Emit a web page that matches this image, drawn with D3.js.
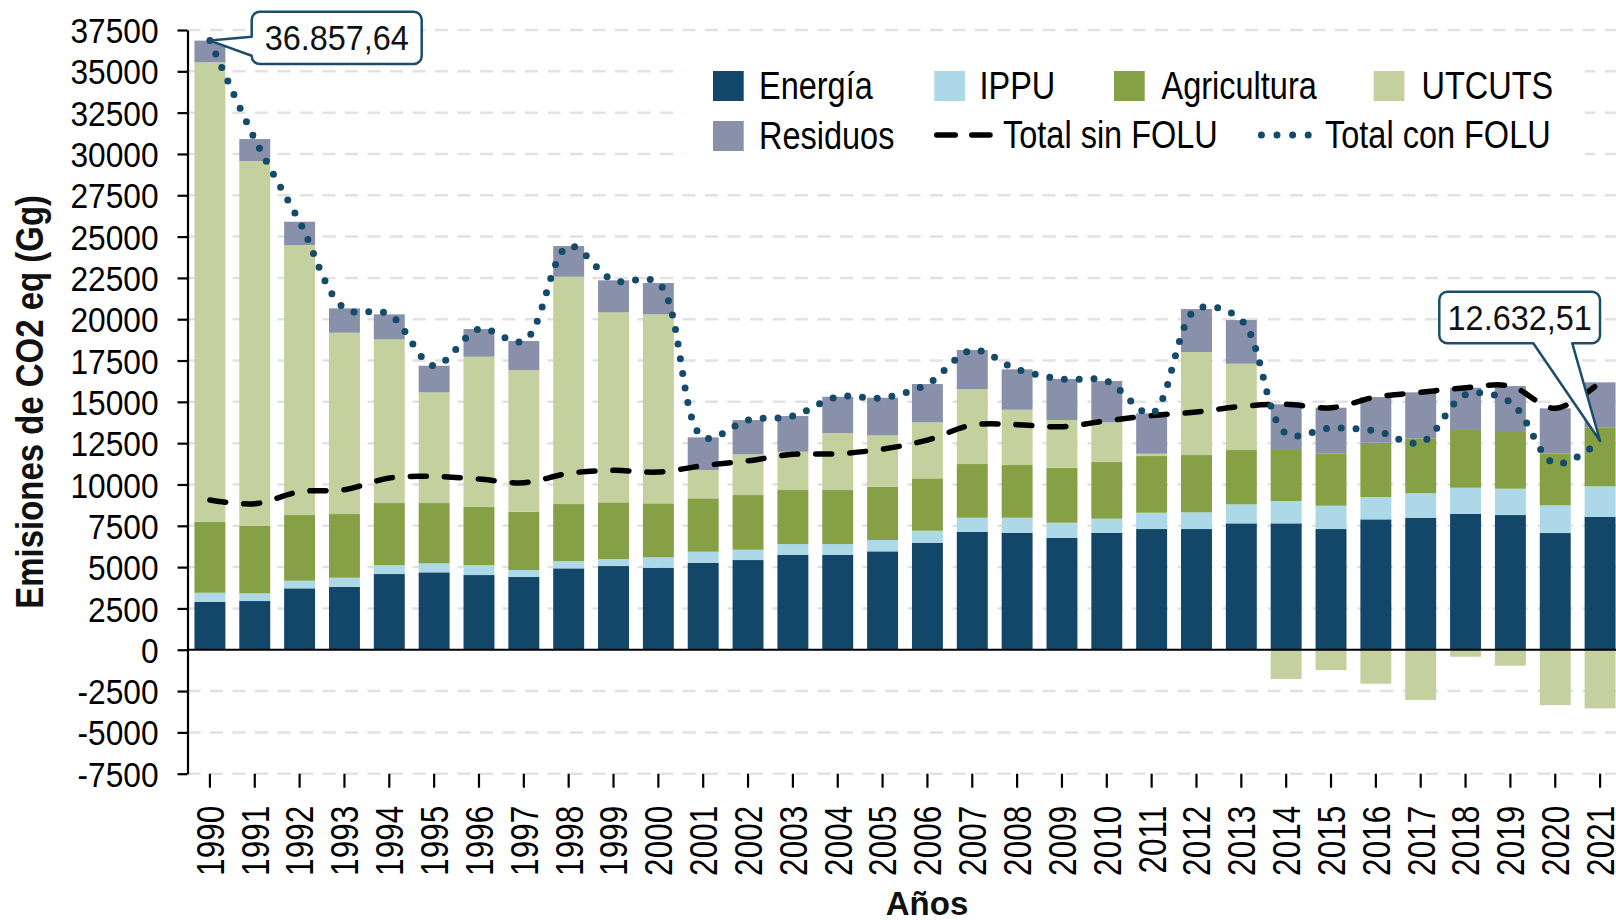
<!DOCTYPE html>
<html>
<head>
<meta charset="utf-8">
<script src="https://cdn.jsdelivr.net/npm/d3@7/dist/d3.min.js"></script>
<style>
  body { margin: 0; background: #fff; }
  svg { display: block; font-family: "Liberation Sans Narrow", "Arial Narrow", "Liberation Sans", Arial, sans-serif; }
</style>
</head>
<body>
<div id="chart"></div>
<script>
const years = ["1990","1991","1992","1993","1994","1995","1996","1997","1998","1999","2000",
  "2001","2002","2003","2004","2005","2006","2007","2008","2009","2010","2011",
  "2012","2013","2014","2015","2016","2017","2018","2019","2020","2021"];

const energia = [2904, 2947, 3715, 3812, 4581, 4683, 4520, 4417, 4925, 5065, 4962,
  5264, 5428, 5749, 5749, 5954, 6475, 7140, 7080, 6777, 7080, 7304,
  7304, 7648, 7648, 7304, 7890, 7987, 8230, 8151, 7062, 8048];
const ippu = [545, 466, 461, 545, 544, 545, 605, 406, 442, 423, 629,
  666, 623, 647, 647, 684, 726, 847, 907, 908, 847, 986,
  1010, 1150, 1350, 1410, 1350, 1477, 1573, 1592, 1676, 1839];
const agricultura = [4296, 4090, 3975, 3854, 3752, 3649, 3528, 3527, 3449, 3431, 3268,
  3231, 3310, 3267, 3267, 3225, 3170, 3250, 3189, 3328, 3431, 3431,
  3467, 3286, 3146, 3170, 3286, 3328, 3491, 3491, 3146, 3546];
const utcuts = [27799, 22069, 16338, 10971, 9905, 6698, 9076, 8575, 13754, 11497, 11436,
  1713, 2463, 2318, 3450, 3110, 3389, 4538, 3346, 2886, 2402, 139,
  6233, 5222, -1773, -1228, -2057, -3044, -424, -968, -3350, -3547];
const residuos = [1314, 1330, 1409, 1476, 1513, 1610, 1677, 1755, 1858, 1936, 1894,
  1978, 2075, 2160, 2196, 2276, 2318, 2360, 2445, 2481, 2499, 2445,
  2602, 2644, 2705, 2759, 2765, 2783, 2560, 2722, 2723, 2747];

const totalSinFolu = [9058, 8833, 9560, 9687, 10390, 10487, 10330, 10105, 10674, 10855, 10753,
  11139, 11436, 11823, 11859, 12139, 12689, 13597, 13621, 13494, 13857, 14166,
  14383, 14728, 14849, 14643, 15291, 15575, 15854, 15956, 14607, 16180];
const totalConFolu = [36857.64, 30902, 25898, 20658, 20295, 17185, 19406, 18680, 24428, 22352, 22189,
  12852, 13899, 14141, 15309, 15249, 16078, 18135, 16967, 16380, 16259, 14305,
  20616, 19950, 13076, 13415, 13234, 12531, 15430, 14988, 11257, 12632.51];

const yTicks = [-7500, -5000, -2500, 0, 2500, 5000, 7500, 10000, 12500, 15000, 17500,
  20000, 22500, 25000, 27500, 30000, 32500, 35000, 37500];

const seriesKeys = ["energia", "ippu", "agricultura", "utcuts", "residuos"];
const seriesLabels = { energia: "Energía", ippu: "IPPU", agricultura: "Agricultura", utcuts: "UTCUTS", residuos: "Residuos" };
const colors = { energia: "#134769", ippu: "#add8e7", agricultura: "#86a046", utcuts: "#c4d19f", residuos: "#8891a9" };
const dotColor = "#154a6b";
const calloutColor = "#1c4d6d";

const width = 1616, height = 920;
const plot = { left: 187.5, right: 1622.5, top: 30, bottom: 773.7 };

const table = years.map((yr, i) => ({
  year: yr, energia: energia[i], ippu: ippu[i], agricultura: agricultura[i],
  utcuts: utcuts[i], residuos: residuos[i]
}));

// squeeze text horizontally (along its own direction) to look like a narrow face
function condense(sel, k) {
  sel.each(function () {
    const t = d3.select(this);
    const tx = +t.attr("x") || 0, ty = +t.attr("y") || 0;
    const pre = t.attr("transform") || "";
    t.attr("x", 0).attr("y", 0)
      .attr("transform", `${pre} translate(${tx},${ty}) scale(${k},1)`);
  });
}

const svg = d3.select("#chart").append("svg")
  .attr("width", width)
  .attr("height", height);

const x = d3.scaleBand()
  .domain(years)
  .range([plot.left, plot.right])
  .paddingInner(0.31)
  .paddingOuter(0.155);

const y = d3.scaleLinear()
  .domain([-7500, 37500])
  .range([plot.bottom, plot.top]);

const xc = yr => x(yr) + x.bandwidth() / 2;

// gridlines
svg.append("g")
  .selectAll("line")
  .data(yTicks.filter(t => t !== 0))
  .enter()
  .append("line")
  .attr("x1", plot.left)
  .attr("x2", width)
  .attr("y1", d => y(d))
  .attr("y2", d => y(d))
  .attr("stroke", "#e2e2e2")
  .attr("stroke-width", 2.5)
  .attr("stroke-dasharray", "13 9.5");

// legend background hides the gridlines behind it
svg.append("rect")
  .attr("x", 683).attr("y", 45)
  .attr("width", 902).attr("height", 130)
  .attr("fill", "#fff");

// stacked bars
const stacked = d3.stack()
  .keys(seriesKeys)
  .offset(d3.stackOffsetDiverging)(table);

svg.append("g")
  .selectAll("g")
  .data(stacked)
  .enter()
  .append("g")
  .attr("fill", d => colors[d.key])
  .selectAll("rect")
  .data(d => d)
  .enter()
  .append("rect")
  .attr("x", d => x(d.data.year))
  .attr("width", x.bandwidth())
  .attr("y", d => y(Math.max(d[0], d[1])))
  .attr("height", d => Math.abs(y(d[0]) - y(d[1])));

// zero line
svg.append("line")
  .attr("x1", plot.left).attr("x2", width)
  .attr("y1", y(0)).attr("y2", y(0))
  .attr("stroke", "#000")
  .attr("stroke-width", 2.2);

// y axis
const yAxis = svg.append("g")
  .attr("transform", `translate(${plot.left},0)`)
  .call(d3.axisLeft(y).tickValues(yTicks).tickSize(10).tickSizeOuter(0).tickPadding(19).tickFormat(d => String(d)));
yAxis.select(".domain").attr("stroke", "#000").attr("stroke-width", 2.2);
yAxis.selectAll(".tick line").attr("stroke", "#000").attr("stroke-width", 2.2);
yAxis.selectAll("text")
  .style("font-size", "36px")
  .style("fill", "#000")
  .attr("dy", "0.35em")
  .call(condense, 0.88);

// x axis (ticks only, at the bottom)
const xAxis = svg.append("g")
  .attr("transform", `translate(0,${plot.bottom})`)
  .call(d3.axisBottom(x).tickSize(14).tickSizeOuter(0).tickPadding(16));
xAxis.select(".domain").remove();
xAxis.selectAll(".tick line").attr("stroke", "#000").attr("stroke-width", 2.2);
xAxis.selectAll("text")
  .style("font-size", "38.5px")
  .style("fill", "#000")
  .attr("transform", "rotate(-90)")
  .attr("text-anchor", "end")
  .attr("x", -32)
  .attr("y", 0)
  .attr("dy", "0.36em")
  .call(condense, 0.82);

// lines
const line = d3.line()
  .x(d => xc(d.year))
  .y(d => y(d.value))
  .curve(d3.curveCatmullRom.alpha(0.5));

svg.append("path")
  .datum(years.map((yr, i) => ({ year: yr, value: totalSinFolu[i] })))
  .attr("d", line)
  .attr("fill", "none")
  .attr("stroke", "#000")
  .attr("stroke-width", 5.5)
  .attr("stroke-linecap", "round")
  .attr("stroke-dasharray", "16 18");

svg.append("path")
  .datum(years.map((yr, i) => ({ year: yr, value: totalConFolu[i] })))
  .attr("d", line)
  .attr("fill", "none")
  .attr("stroke", dotColor)
  .attr("stroke-width", 7)
  .attr("stroke-linecap", "round")
  .attr("stroke-dasharray", "0 14.8");

// callouts
function calloutLeft(bx, by, bw, bh, r, a, b, tip) {
  return `M${bx + r},${by} H${bx + bw - r} A${r},${r} 0 0 1 ${bx + bw},${by + r}` +
    ` V${by + bh - r} A${r},${r} 0 0 1 ${bx + bw - r},${by + bh}` +
    ` H${bx + r} A${r},${r} 0 0 1 ${bx},${by + bh - r}` +
    ` V${by + b} L${tip[0]},${tip[1]} L${bx},${by + a}` +
    ` V${by + r} A${r},${r} 0 0 1 ${bx + r},${by} Z`;
}
function calloutBottom(bx, by, bw, bh, r, a, b, tip) {
  return `M${bx + r},${by} H${bx + bw - r} A${r},${r} 0 0 1 ${bx + bw},${by + r}` +
    ` V${by + bh - r} A${r},${r} 0 0 1 ${bx + bw - r},${by + bh}` +
    ` H${bx + b} L${tip[0]},${tip[1]} L${bx + a},${by + bh}` +
    ` H${bx + r} A${r},${r} 0 0 1 ${bx},${by + bh - r}` +
    ` V${by + r} A${r},${r} 0 0 1 ${bx + r},${by} Z`;
}

const c1 = { year: "1990", value: totalConFolu[0], text: "36.857,64" };
const c2 = { year: "2021", value: totalConFolu[31], text: "12.632,51" };

const box1 = { x: 251.7, y: 11.7, w: 170, h: 52.3 };
svg.append("path")
  .attr("d", calloutLeft(box1.x, box1.y, box1.w, box1.h, 8, 25, 44, [xc(c1.year), y(c1.value)]))
  .attr("fill", "#fff")
  .attr("stroke", calloutColor)
  .attr("stroke-width", 2.5)
  .attr("stroke-linejoin", "round");
svg.append("text")
  .attr("x", box1.x + box1.w / 2)
  .attr("y", box1.y + box1.h / 2)
  .attr("dy", "0.35em")
  .attr("text-anchor", "middle")
  .style("font-size", "36px")
  .style("fill", "#111")
  .text(c1.text)
  .call(condense, 0.9);

const box2 = { x: 1439.3, y: 291.7, w: 160.7, h: 51.6 };
svg.append("path")
  .attr("d", calloutBottom(box2.x, box2.y, box2.w, box2.h, 8, 94, 133, [xc(c2.year), y(c2.value)]))
  .attr("fill", "#fff")
  .attr("stroke", calloutColor)
  .attr("stroke-width", 2.5)
  .attr("stroke-linejoin", "round");
svg.append("text")
  .attr("x", box2.x + box2.w / 2)
  .attr("y", box2.y + box2.h / 2)
  .attr("dy", "0.35em")
  .attr("text-anchor", "middle")
  .style("font-size", "36px")
  .style("fill", "#111")
  .text(c2.text)
  .call(condense, 0.9);

// legend
const legendItems = [
  { key: "energia", type: "rect", x: 713, y: 86, tx: 759 },
  { key: "ippu", type: "rect", x: 934.3, y: 86, tx: 979.5 },
  { key: "agricultura", type: "rect", x: 1114, y: 86, tx: 1161.5 },
  { key: "utcuts", type: "rect", x: 1373.7, y: 86, tx: 1421.5 },
  { key: "residuos", type: "rect", x: 713, y: 136, tx: 759 },
  { key: "sin", label: "Total sin FOLU", type: "dash", x: 934, y: 135, tx: 1003 },
  { key: "con", label: "Total con FOLU", type: "dot", x: 1258, y: 135, tx: 1325 }
];

const legend = svg.append("g");
legendItems.forEach(item => {
  if (item.type === "rect") {
    legend.append("rect")
      .attr("x", item.x).attr("y", item.y - 15)
      .attr("width", 30.7).attr("height", 30)
      .attr("fill", colors[item.key]);
  } else if (item.type === "dash") {
    legend.append("line")
      .attr("x1", item.x + 2.75).attr("x2", item.x + 56)
      .attr("y1", item.y).attr("y2", item.y)
      .attr("stroke", "#000")
      .attr("stroke-width", 5.5)
      .attr("stroke-linecap", "round")
      .attr("stroke-dasharray", "18.5 16.5");
  } else {
    legend.append("line")
      .attr("x1", item.x + 3.4).attr("x2", item.x + 50.4)
      .attr("y1", item.y).attr("y2", item.y)
      .attr("stroke", dotColor)
      .attr("stroke-width", 7)
      .attr("stroke-linecap", "round")
      .attr("stroke-dasharray", "0 15.6");
  }
  legend.append("text")
    .attr("x", item.tx)
    .attr("y", item.y)
    .attr("dy", "0.35em")
    .style("font-size", "38px")
    .style("fill", "#000")
    .text(item.label || seriesLabels[item.key])
    .call(condense, 0.855);
});

// axis titles
svg.append("text")
  .attr("transform", "rotate(-90)")
  .attr("x", -(plot.top + plot.bottom) / 2)
  .attr("y", 43)
  .attr("text-anchor", "middle")
  .style("font-size", "38.5px")
  .style("font-weight", "bold")
  .style("fill", "#111")
  .text("Emisiones de CO2 eq (Gg)")
  .call(condense, 0.856);

svg.append("text")
  .attr("x", 927)
  .attr("y", 915)
  .attr("text-anchor", "middle")
  .style("font-size", "33px")
  .style("font-weight", "bold")
  .style("fill", "#111")
  .text("Años");
</script>
</body>
</html>
